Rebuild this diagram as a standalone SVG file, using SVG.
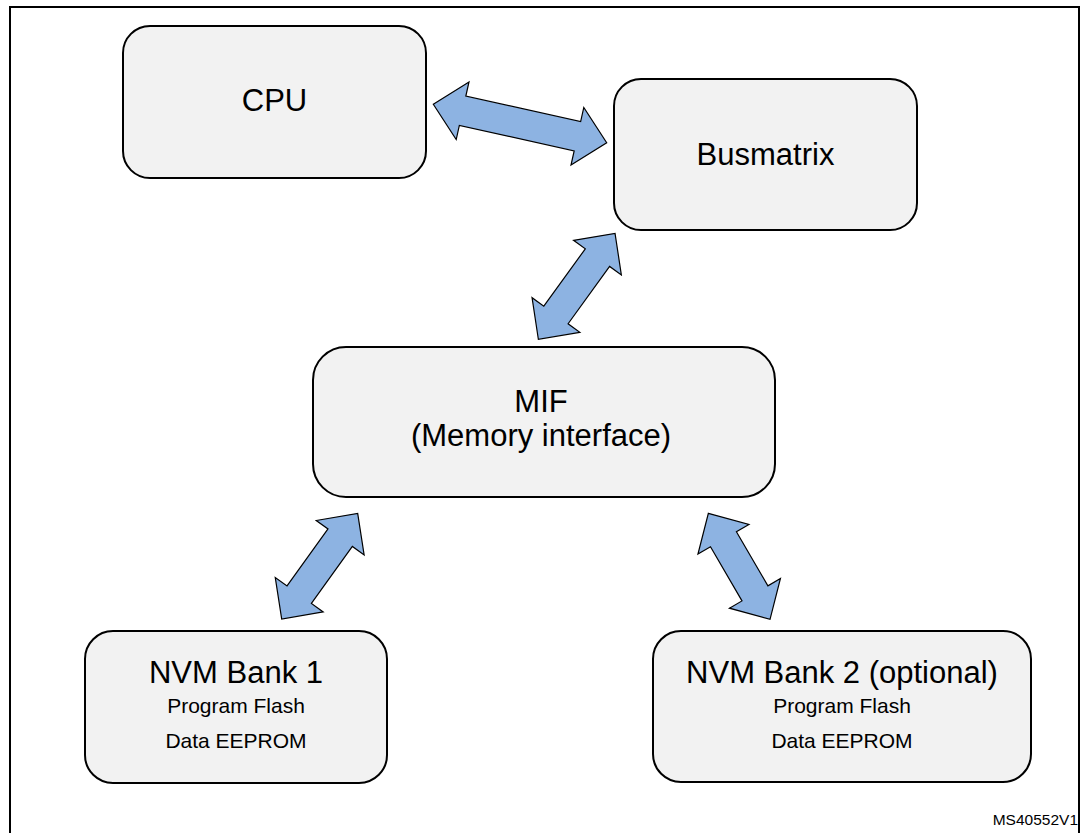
<svg xmlns="http://www.w3.org/2000/svg" width="1082" height="833" viewBox="0 0 1082 833">
  <style>
    .box { fill: #f2f2f2; stroke: #000; stroke-width: 2; }
    .arrow { fill: #8db3e2; stroke: #000; stroke-width: 1.2; stroke-linejoin: miter; }
    .big { font-family: "Liberation Sans", Arial, sans-serif; font-size: 31px; fill: #000; text-anchor: middle; }
    .small { font-family: "Liberation Sans", Arial, sans-serif; font-size: 21px; fill: #000; text-anchor: middle; }
    .ref { font-family: "Liberation Sans", Arial, sans-serif; font-size: 15.5px; fill: #000; text-anchor: end; }
  </style>

  <rect width="1082" height="833" fill="#fff"/>
  <!-- outer figure frame -->
  <rect x="10" y="7" width="1069" height="850" fill="none" stroke="#000" stroke-width="2"/>

  <!-- bidirectional bus arrows -->
  <g id="connectors">
    <polygon class="arrow" transform="translate(520,123.5) rotate(12.5)"
      points="-88.8,0 -58.8,-29.5 -58.8,-15 58.8,-15 58.8,-29.5 88.8,0 58.8,29.5 58.8,15 -58.8,15 -58.8,29.5"/>
    <polygon class="arrow" transform="translate(576.7,286.3) rotate(-54.1)"
      points="-65.4,0 -35.4,-29.5 -35.4,-15 35.4,-15 35.4,-29.5 65.4,0 35.4,29.5 35.4,15 -35.4,15 -35.4,29.5"/>
    <polygon class="arrow" transform="translate(319.7,566.2) rotate(-54.3)"
      points="-65.1,0 -35.1,-29.5 -35.1,-15 35.1,-15 35.1,-29.5 65.1,0 35.1,29.5 35.1,15 -35.1,15 -35.1,29.5"/>
    <polygon class="arrow" transform="translate(739.2,566.3) rotate(59.8)"
      points="-61.3,0 -31.3,-29.5 -31.3,-15 31.3,-15 31.3,-29.5 61.3,0 31.3,29.5 31.3,15 -31.3,15 -31.3,29.5"/>
  </g>

  <g id="cpu">
    <rect class="box" x="123" y="26" width="303" height="152" rx="27" ry="27"/>
    <text class="big" x="274.5" y="111">CPU</text>
  </g>

  <g id="busmatrix">
    <rect class="box" x="614" y="79" width="303" height="151" rx="27" ry="27"/>
    <text class="big" x="765.5" y="165">Busmatrix</text>
  </g>

  <g id="mif">
    <rect class="box" x="313" y="347" width="462" height="150" rx="33" ry="33"/>
    <text class="big" x="541" y="412">MIF</text>
    <text class="big" x="541" y="446">(Memory interface)</text>
  </g>

  <g id="nvm-bank-1">
    <rect class="box" x="85" y="631" width="302" height="152" rx="28" ry="28"/>
    <text class="big" x="236" y="683">NVM Bank 1</text>
    <text class="small" x="236" y="713">Program Flash</text>
    <text class="small" x="236" y="748">Data EEPROM</text>
  </g>

  <g id="nvm-bank-2">
    <rect class="box" x="653" y="631" width="378" height="151" rx="28" ry="28"/>
    <text class="big" x="842" y="683">NVM Bank 2 (optional)</text>
    <text class="small" x="842" y="713">Program Flash</text>
    <text class="small" x="842" y="748">Data EEPROM</text>
  </g>

  <text class="ref" x="1078" y="825">MS40552V1</text>
</svg>
